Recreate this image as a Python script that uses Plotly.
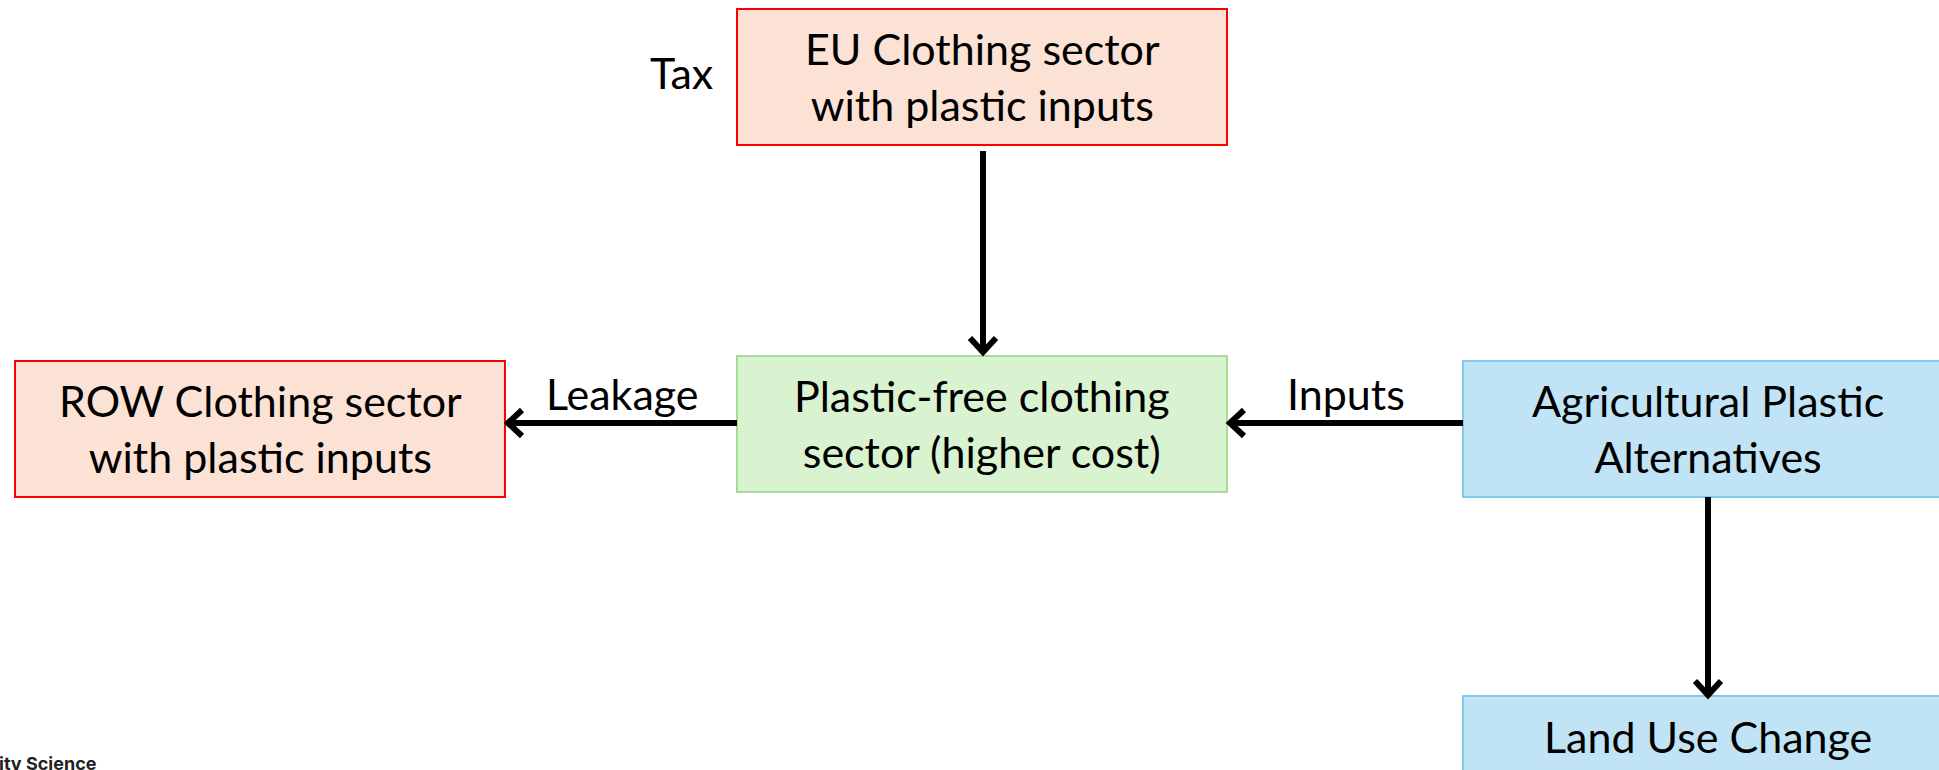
import plotly.graph_objects as go

# node labels
node_ids = ['eu', 'row', 'free', 'agri', 'land']
node_text = ['EU Clothing sector<br>with plastic inputs',
             'ROW Clothing sector<br>with plastic inputs',
             'Plastic-free clothing<br>sector (higher cost)',
             'Agricultural Plastic<br>Alternatives',
             'Land Use Change']
node_kind = ['taxed', 'taxed', 'clean', 'agri', 'agri']

# edges (from, to, label)
edge_from = ['eu', 'free', 'agri', 'agri']
edge_to = ['free', 'row', 'free', 'land']
edge_label = ['', 'Leakage', 'Inputs', '']

side_label = 'Tax'
footer = 'ity Science'

# ---- layout (pixels) ----
W, H = 1939, 770
BW, BH = 490, 136
box_pos = {'eu': (737, 9), 'row': (15, 361), 'free': (737, 356),
           'agri': (1463, 361), 'land': (1463, 696)}
styles = {'taxed': dict(fill='#FBE2D5', line='#FF0000'),
          'clean': dict(fill='#D9F2D0', line='#A6DC95'),
          'agri': dict(fill='#C0E4F5', line='#83C9EC')}
FONT = 'Lato'
FS = 43

fig = go.Figure()
shapes = []
annotations = []

for nid, txt, kind in zip(node_ids, node_text, node_kind):
    x0, y0 = box_pos[nid]
    st = styles[kind]
    shapes.append(dict(type='rect', xref='x', yref='y', x0=x0, y0=y0, x1=x0 + BW, y1=y0 + BH,
                       fillcolor=st['fill'], line=dict(color=st['line'], width=2), layer='below'))
    cy = y0 + BH / 2 - 1
    if nid == 'land':
        cy = y0 + 40
    annotations.append(dict(x=x0 + BW / 2, y=cy, xref='x', yref='y', text=txt, showarrow=False,
                            font=dict(family=FONT, size=FS, color='black'), align='center'))


def arrow(x0, y0, x1, y1):
    # shaft + open chevron head
    dx, dy = x1 - x0, y1 - y0
    n = (dx * dx + dy * dy) ** 0.5
    ux, uy = dx / n, dy / n
    px, py = -uy, ux
    hl, hw = 14, 13
    shapes.append(dict(type='line', xref='x', yref='y', x0=x0, y0=y0, x1=x1 - ux * 3, y1=y1 - uy * 3,
                       line=dict(color='black', width=6)))
    ax, ay = x1 - ux * hl + px * hw, y1 - uy * hl + py * hw
    bx, by = x1 - ux * hl - px * hw, y1 - uy * hl - py * hw
    shapes.append(dict(type='path', xref='x', yref='y',
                       path=f'M {ax},{ay} L {x1},{y1} L {bx},{by}',
                       line=dict(color='black', width=6)))


for a, b, lab in zip(edge_from, edge_to, edge_label):
    ax0, ay0 = box_pos[a]
    bx0, by0 = box_pos[b]
    if a == 'eu':
        arrow(983, ay0 + BH + 6, 983, by0 - 4)
    elif a == 'agri' and b == 'land':
        arrow(1708, ay0 + BH, 1708, by0 - 1)
    else:
        arrow(ax0, 423, bx0 + BW + 3, 423)
        annotations.append(dict(x=(ax0 + bx0 + BW) / 2 + 1, y=393, xref='x', yref='y', text=lab,
                                showarrow=False, font=dict(family=FONT, size=FS, color='black')))

annotations.append(dict(x=681, y=72, xref='x', yref='y', text=side_label, showarrow=False,
                        font=dict(family=FONT, size=FS, color='black')))
annotations.append(dict(x=0, y=0, xref='paper', yref='paper', text=f'<b>{footer}</b>', showarrow=False,
                        xanchor='left', yanchor='bottom', xshift=-3, yshift=-6,
                        font=dict(family='Inter', size=18, color='#222222')))

fig.update_layout(width=W, height=H, margin=dict(l=0, r=0, t=0, b=0),
                  plot_bgcolor='white', paper_bgcolor='white',
                  xaxis=dict(range=[0, W], visible=False, fixedrange=True),
                  yaxis=dict(range=[H, 0], visible=False, fixedrange=True),
                  shapes=shapes, annotations=annotations, showlegend=False)

# drop the default page margin so the figure sits flush with the window
fig.write_html('out.html', config={'displayModeBar': False},
               post_script="document.body.style.margin='0px';")
